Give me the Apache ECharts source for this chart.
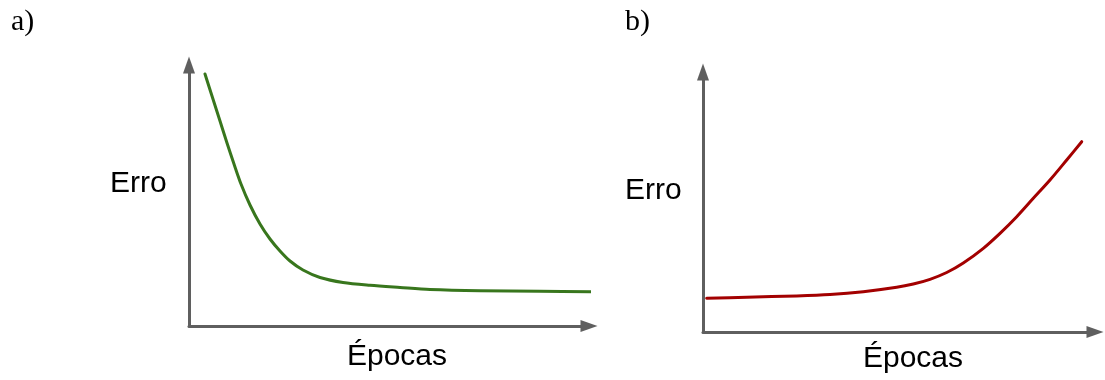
<!DOCTYPE html>
<html>
<head>
<meta charset="utf-8">
<script src="https://cdn.jsdelivr.net/npm/echarts@6/dist/echarts.min.js"></script>
<style>
  html, body { margin: 0; padding: 0; background: #ffffff; }
  #chart { width: 1105px; height: 380px; }
</style>
</head>
<body>
<div id="chart"></div>
<script>
// Training error per epoch: a) decreasing towards a plateau, b) rising late.
const epochsA = [4.0, 5.75, 7.75, 9.5, 11.25, 13.0, 15.25, 17.75, 20.25, 22.75, 25.25, 28.5, 32.75, 38.5, 45.25, 52.75, 60.25, 72.75, 87.75, 100.5];
const errorA  = [96.55, 88.12, 78.54, 70.11, 62.07, 54.41, 46.36, 39.08, 33.33, 28.74, 24.90, 21.46, 18.58, 16.67, 15.59, 14.75, 13.98, 13.49, 13.30, 13.14];

const epochsB = [0.94, 11.15, 23.90, 32.40, 40.89, 49.41, 53.65, 57.91, 62.17, 66.40, 71.51, 75.77, 80.03, 84.26, 88.52, 92.78, 96.61];
const errorB  = [13.00, 13.38, 13.88, 14.42, 15.50, 17.19, 18.46, 20.27, 22.88, 26.54, 32.19, 37.96, 44.35, 51.42, 58.46, 66.15, 73.19];

const panelLabels = ['a)', 'b)'];
const xName = 'Épocas';
const yName = 'Erro';

const axisGray = '#5f5f5f';
const sansFont = '"Liberation Sans", Arial, sans-serif';
const serifFont = '"Liberation Serif", "Times New Roman", serif';

function pairs(xs, ys) { return xs.map((x, i) => [x, ys[i]]); }

function plainAxis(gridIndex) {
  return {
    type: 'value', gridIndex, min: 0, max: 100,
    axisLine: {
      show: true, onZero: false,
      symbol: ['none', 'triangle'], symbolSize: [12, 17],
      lineStyle: { color: axisGray, width: 3 }
    },
    axisTick: { show: false },
    axisLabel: { show: false },
    splitLine: { show: false }
  };
}

function label(text, x, y, font, size, align) {
  return {
    type: 'text', x, y, silent: true,
    style: { text, fill: '#000', font: size + 'px ' + font, align: align, verticalAlign: 'middle' }
  };
}

const chart = echarts.init(document.getElementById('chart'), null, { renderer: 'canvas' });
chart.setOption({
  animation: false,
  backgroundColor: '#ffffff',
  grid: [
    { left: 189, top: 65, width: 400, height: 261 },
    { left: 703, top: 72, width: 392, height: 260 }
  ],
  xAxis: [plainAxis(0), plainAxis(1)],
  yAxis: [plainAxis(0), plainAxis(1)],
  series: [
    {
      type: 'line', xAxisIndex: 0, yAxisIndex: 0,
      data: pairs(epochsA, errorA), smooth: 0.3,
      showSymbol: false, clip: false,
      lineStyle: { color: '#38761d', width: 3, cap: 'round', join: 'round' }
    },
    {
      type: 'line', xAxisIndex: 1, yAxisIndex: 1,
      data: pairs(epochsB, errorB), smooth: 0.3,
      showSymbol: false, clip: false,
      lineStyle: { color: '#a30000', width: 3, cap: 'round', join: 'round' }
    }
  ],
  graphic: [
    label(panelLabels[0], 11, 22, serifFont, 30, 'left'),
    label(panelLabels[1], 625, 22, serifFont, 30, 'left'),
    label(yName, 110, 183.5, sansFont, 30, 'left'),
    label(yName, 625, 190.5, sansFont, 30, 'left'),
    label(xName, 397, 356.5, sansFont, 30, 'center'),
    label(xName, 913, 358.5, sansFont, 30, 'center')
  ]
});
</script>
</body>
</html>
